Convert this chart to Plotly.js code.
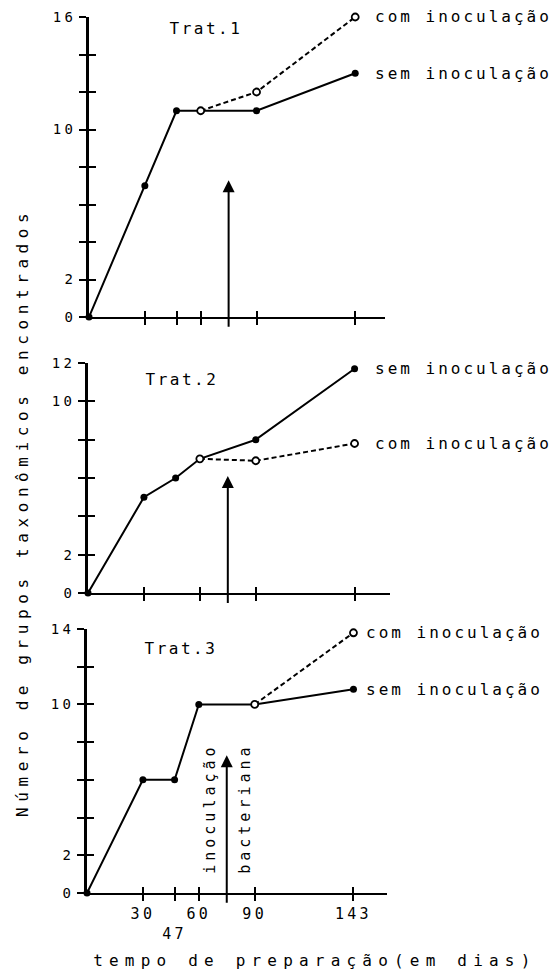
<!DOCTYPE html>
<html>
<head>
<meta charset="utf-8">
<script src="https://cdn.plot.ly/plotly-3.0.1.min.js"></script>
<style>
html,body{margin:0;padding:0;background:#fff;}
#chart{width:557px;height:973px;}
.xaxislayer-above text,.yaxislayer-above text{letter-spacing:3.3px;}
g.annotation text.annotation-text{letter-spacing:3px;}
g.annotation[data-index="0"] text.annotation-text{letter-spacing:5.6px;}
g.annotation[data-index="1"] text.annotation-text{letter-spacing:6.2px;}
g.annotation[data-index="2"] text.annotation-text,
g.annotation[data-index="3"] text.annotation-text,
g.annotation[data-index="4"] text.annotation-text{letter-spacing:2.5px;}
g.annotation[data-index="11"] text.annotation-text,
g.annotation[data-index="12"] text.annotation-text{letter-spacing:4px;}
</style>
</head>
<body>
<div id="chart"></div>
<script>
// ---- data ----
const days = [0, 30, 47, 60, 90, 143];
const sem1 = [0, 7, 11, 11, 11, 13];
const comDays1 = [60, 90, 143];
const com1 = [11, 12, 16];
const sem2 = [0, 5, 6, 7, 8, 11.7];
const comDays2 = [60, 90, 143];
const com2 = [7, 6.9, 7.8];
const sem3 = [0, 6, 6, 10, 10, 10.8];
const comDays3 = [90, 143];
const com3 = [10, 13.8];
const inoculationDay = 75;
const arrowTops = [7.3, 6.1, 7.3];
const arrowBase = -0.6;
const xTicks1 = [30, 47, 60, 90, 143];
const xTicks2 = [30, 60, 90, 143];
const xTicks3 = [30, 47, 60, 90, 143];
const xTickText3 = ['30', '<br>47', '60', '90', '143'];
const yTicks1 = [0, 2, 4, 6, 8, 10, 12, 14, 16];
const yTicks2 = [0, 2, 4, 6, 8, 10, 12];
const yTicks3 = [0, 2, 4, 6, 8, 10, 12, 14];
const yLabeled1 = [0, 2, 10, 16];
const yLabeled2 = [0, 2, 10, 12];
const yLabeled3 = [0, 2, 10, 14];
const panelTitles = ['Trat.1', 'Trat.2', 'Trat.3'];
const semName = 'sem inoculação';
const comName = 'com inoculação';
const xTitle = 'tempo de preparação(em dias)';
const yTitle = 'Número de grupos taxonômicos encontrados';
const arrowLabels = ['inoculação', 'bacteriana'];

// ---- layout helpers ----
const W = 557, H = 973;
const px = v => v / W;
const py = v => 1 - v / H;
const FONT = 'DejaVu Sans Mono';

const panels = [
  {xd:[89,385], yd:[17,317], xr:[0,159], yr:[0,16], yt:yTicks1, yl:yLabeled1, xt:xTicks1, xtt:null,
   sem:sem1, comX:comDays1, com:com1, title:[206,28], labelShift:39, order:['com','sem']},
  {xd:[88,390], yd:[363,593], xr:[0,162], yr:[0,12], yt:yTicks2, yl:yLabeled2, xt:xTicks2, xtt:null,
   sem:sem2, comX:comDays2, com:com2, title:[182,380], labelShift:39, order:['sem','com']},
  {xd:[87,387], yd:[629,893], xr:[0,161], yr:[0,14], yt:yTicks3, yl:yLabeled3, xt:xTicks3, xtt:xTickText3,
   sem:sem3, comX:comDays3, com:com3, title:[181,648], labelShift:32, order:['com','sem']}
];

const data = [];
const layout = {
  width: W, height: H,
  margin: {l:0, r:0, t:0, b:0},
  paper_bgcolor: 'white', plot_bgcolor: 'white',
  showlegend: false,
  font: {family: FONT, color: 'black', size: 14},
  annotations: []
};

const annTitles = [];
const annEnds = [];
const annArrows = [];

panels.forEach((p, i) => {
  const n = i + 1;
  const xs = n === 1 ? '' : String(n);
  const xo = String(n + 3);
  const xId = 'x' + xs, yId = 'y' + xs;
  const xoId = 'x' + xo, yoId = 'y' + xo;

  layout['xaxis' + xs] = {
    domain: [px(p.xd[0]), px(p.xd[1])], anchor: yId, range: p.xr,
    showline: true, linecolor: 'black', linewidth: 2,
    showgrid: false, zeroline: false,
    ticks: 'outside', ticklen: 6, tickwidth: 2, tickcolor: 'black',
    tickmode: 'array', tickvals: p.xt,
    ticktext: p.xtt ? p.xtt : p.xt.map(() => ''),
    showticklabels: !!p.xtt,
    tickfont: {family: FONT, size: 15, color: 'black'},
    fixedrange: true
  };
  layout['yaxis' + xs] = {
    domain: [py(p.yd[1]), py(p.yd[0])], anchor: xId, range: p.yr,
    showline: true, linecolor: 'black', linewidth: 3,
    showgrid: false, zeroline: false,
    ticks: 'outside', ticklen: 7, tickwidth: 2, tickcolor: 'black',
    tickmode: 'array', tickvals: p.yt,
    ticktext: p.yt.map(v => p.yl.includes(v) ? String(v) : ''),
    tickfont: {family: FONT, size: 14, color: 'black'},
    fixedrange: true
  };
  // overlay axes to make ticks cross the axis lines
  layout['xaxis' + xo] = {
    overlaying: xId, anchor: yoId, range: p.xr, side: 'bottom',
    showline: false, showgrid: false, zeroline: false,
    ticks: 'inside', ticklen: 6, tickwidth: 2, tickcolor: 'black',
    tickmode: 'array', tickvals: p.xt, showticklabels: false, fixedrange: true
  };
  layout['yaxis' + xo] = {
    overlaying: yId, anchor: xoId, range: p.yr, side: 'left',
    showline: false, showgrid: false, zeroline: false,
    ticks: 'inside', ticklen: 7, tickwidth: 2, tickcolor: 'black',
    tickmode: 'array', tickvals: p.yt, showticklabels: false, fixedrange: true
  };
  data.push({x: [p.xr[0]], y: [p.yr[0]], xaxis: xoId, yaxis: yoId, mode: 'markers',
             marker: {opacity: 0}, hoverinfo: 'skip', showlegend: false});

  // series
  data.push({
    x: days, y: p.sem, xaxis: xId, yaxis: yId, name: semName,
    mode: 'lines+markers', cliponaxis: false,
    line: {color: 'black', width: 2},
    marker: {color: 'black', size: 7}
  });
  data.push({
    x: p.comX, y: p.com, xaxis: xId, yaxis: yId, name: comName,
    mode: 'lines+markers', cliponaxis: false,
    line: {color: 'black', width: 2, dash: '5px,3px'},
    marker: {color: 'white', size: 7, line: {color: 'black', width: 1.8}}
  });

  annTitles.push({
    xref: 'paper', yref: 'paper', x: px(p.title[0]), y: py(p.title[1]),
    text: panelTitles[i], showarrow: false, xanchor: 'center', yanchor: 'middle',
    font: {family: FONT, size: 16, color: 'black'}
  });

  const lastX = days[days.length - 1];
  p.order.forEach(k => {
    const yv = k === 'sem' ? p.sem[p.sem.length - 1] : p.com[p.com.length - 1];
    annEnds.push({
      xref: xId, yref: yId, x: lastX, y: yv, xshift: p.labelShift,
      text: k === 'sem' ? semName : comName, showarrow: false,
      xanchor: 'left', yanchor: 'middle',
      font: {family: FONT, size: 16, color: 'black'}
    });
  });

  annArrows.push({
    xref: xId, yref: yId, axref: xId, ayref: yId,
    x: inoculationDay, y: arrowTops[i], ax: inoculationDay, ay: arrowBase,
    text: '', showarrow: true, arrowhead: 2, arrowsize: 1.2, arrowwidth: 2,
    arrowcolor: 'black', standoff: 0, startstandoff: 0
  });
});

const annAxisTitles = [
  {xref: 'paper', yref: 'paper', x: px(22), y: py(513), text: yTitle, textangle: -90,
   showarrow: false, xanchor: 'center', yanchor: 'middle',
   font: {family: FONT, size: 16, color: 'black'}},
  {xref: 'paper', yref: 'paper', x: px(315), y: py(960), text: xTitle,
   showarrow: false, xanchor: 'center', yanchor: 'middle',
   font: {family: FONT, size: 16, color: 'black'}}
];

const annInoc = [
  {xref: 'x3', yref: 'paper', x: inoculationDay, xshift: -17, y: py(809), text: arrowLabels[0],
   textangle: -90, showarrow: false, xanchor: 'center', yanchor: 'middle',
   font: {family: FONT, size: 15, color: 'black'}},
  {xref: 'x3', yref: 'paper', x: inoculationDay, xshift: 18, y: py(809), text: arrowLabels[1],
   textangle: -90, showarrow: false, xanchor: 'center', yanchor: 'middle',
   font: {family: FONT, size: 15, color: 'black'}}
];

layout.annotations = annAxisTitles.concat(annTitles, annEnds, annInoc, annArrows);

Plotly.newPlot('chart', data, layout, {displayModeBar: false, staticPlot: true});
</script>
</body>
</html>
